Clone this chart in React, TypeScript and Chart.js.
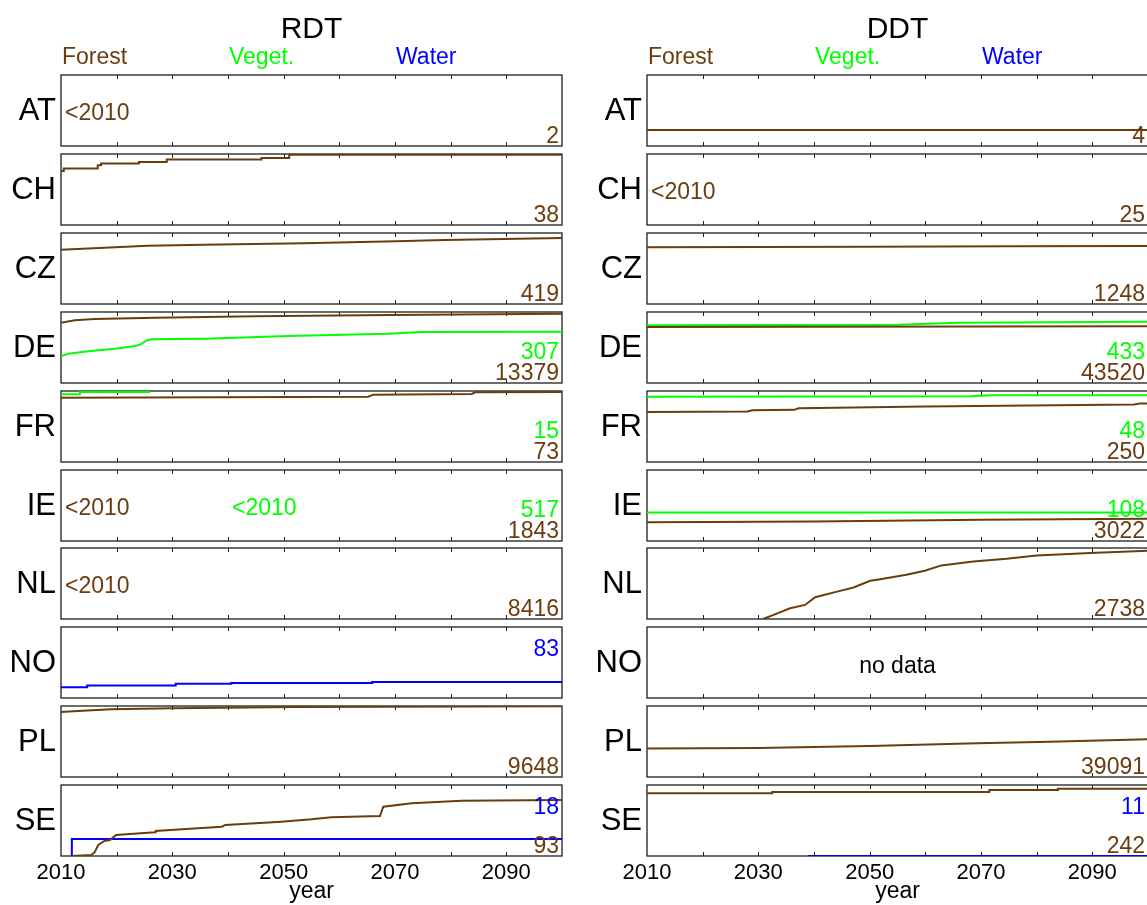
import { useEffect, useRef } from 'react';
import { Chart, registerables } from 'chart.js';

Chart.register(...registerables);

type Pt = [number, number];
type ClassKey = 'forest' | 'veget' | 'water';

const FONT = '"Liberation Sans", Arial, Helvetica, sans-serif';
Chart.defaults.font.family = FONT;

// ---------------- categories, labels, ticks ----------------
const COUNTRIES = ['AT', 'CH', 'CZ', 'DE', 'FR', 'IE', 'NL', 'NO', 'PL', 'SE'];
const COLUMN_TITLES = ['RDT', 'DDT'];
const CLASS_KEYS: ClassKey[] = ['forest', 'veget', 'water'];
const CLASS_LABELS = ['Forest', 'Veget.', 'Water'];
const CLASS_COLORS = ['#6b3c10', '#00ff00', '#0000ff'];
const CLASS_LABEL_YEARS = [2010, 2040, 2070];
const YEAR_MIN = 2010;
const YEAR_MAX = 2100;
const YEAR_TICK_LABELS = [2010, 2030, 2050, 2070, 2090];
const YEAR_MINOR_TICKS = [2020, 2030, 2040, 2050, 2060, 2070, 2080, 2090];
const X_TITLE = 'year';
const BEFORE_TEXT = '<2010';
const NO_DATA_TEXT = 'no data';
const NO_DATA_YEAR = 2055;

// ---------------- counts shown at the right of each panel ----------------
const RDT_COUNT_FOREST = ['2', '38', '419', '13379', '73', '1843', '8416', '', '9648', '93'];
const RDT_COUNT_VEGET = ['', '', '', '307', '15', '517', '', '', '', ''];
const RDT_COUNT_WATER = ['', '', '', '', '', '', '', '83', '', '18'];
const DDT_COUNT_FOREST = ['4', '25', '1248', '43520', '250', '3022', '2738', '', '39091', '242'];
const DDT_COUNT_VEGET = ['', '', '', '433', '48', '108', '', '', '', ''];
const DDT_COUNT_WATER = ['', '', '', '', '', '', '', '', '', '11'];

// ---------------- panels whose series lie before 2010 / have no data ----------------
const RDT_BEFORE_FOREST = ['AT', 'IE', 'NL'];
const RDT_BEFORE_VEGET = ['IE'];
const DDT_BEFORE_FOREST = ['CH'];
const DDT_NO_DATA = ['NO'];

// ---------------- RDT series (year, fraction) ----------------
const RDT_CH_FOREST: Pt[] = [[2010, 0.762], [2010.5, 0.795], [2016.6, 0.84], [2017.2, 0.865], [2024, 0.888], [2029, 0.921], [2046, 0.944], [2051, 0.99], [2100, 0.99]];
const RDT_CZ_FOREST: Pt[] = [[2010, 0.765], [2025.6, 0.822], [2035.6, 0.836], [2053.6, 0.854], [2070.2, 0.883], [2078.9, 0.901], [2100, 0.93]];
const RDT_DE_FOREST: Pt[] = [[2010, 0.85], [2012.5, 0.883], [2016, 0.9], [2027, 0.92], [2045, 0.94], [2069, 0.958], [2100, 0.977]];
const RDT_DE_VEGET: Pt[] = [[2010, 0.376], [2011.3, 0.413], [2014.9, 0.446], [2019.7, 0.484], [2023.3, 0.52], [2024.2, 0.54], [2025.4, 0.6], [2026.3, 0.615], [2035.9, 0.624], [2050.8, 0.662], [2068.8, 0.695], [2074.8, 0.718], [2100, 0.723]];
const RDT_FR_FOREST: Pt[] = [[2010, 0.906], [2065.2, 0.92], [2066.1, 0.948], [2083.8, 0.958], [2084.4, 0.981], [2100, 0.986]];
const RDT_FR_VEGET: Pt[] = [[2010, 0.953], [2013.4, 0.986], [2026, 0.986]];
const RDT_NO_WATER: Pt[] = [[2010, 0.152], [2014.7, 0.175], [2030.6, 0.199], [2040.6, 0.213], [2065.9, 0.227], [2100, 0.227]];
const RDT_PL_FOREST: Pt[] = [[2010, 0.916], [2013, 0.93], [2019, 0.953], [2030, 0.97], [2052.3, 0.986], [2100, 0.995]];
const RDT_SE_FOREST: Pt[] = [[2011.9, 0], [2015.4, 0.014], [2016, 0.047], [2016.7, 0.155], [2017.8, 0.211], [2018.8, 0.225], [2019.9, 0.296], [2026.9, 0.333], [2027, 0.352], [2031.7, 0.376], [2038.9, 0.413], [2039.5, 0.437], [2049.6, 0.484], [2055, 0.516], [2058.6, 0.545], [2067.3, 0.563], [2067.9, 0.695], [2073, 0.742], [2082, 0.779], [2100, 0.789]];
const RDT_SE_WATER: Pt[] = [[2011.9, 0], [2011.95, 0.239], [2100, 0.239]];

// ---------------- DDT series (year, fraction) ----------------
const DDT_AT_FOREST: Pt[] = [[2010, 0.226], [2100, 0.226]];
const DDT_CZ_FOREST: Pt[] = [[2010, 0.798], [2050, 0.805], [2075, 0.812], [2100, 0.817]];
const DDT_DE_FOREST: Pt[] = [[2010, 0.789], [2100, 0.798]];
const DDT_DE_VEGET: Pt[] = [[2010, 0.812], [2055, 0.82], [2066, 0.85], [2100, 0.864]];
const DDT_FR_FOREST: Pt[] = [[2010, 0.703], [2028, 0.71], [2029, 0.73], [2036.5, 0.735], [2037.2, 0.757], [2060, 0.78], [2097.5, 0.81], [2098.5, 0.825], [2100, 0.825]];
const DDT_FR_VEGET: Pt[] = [[2010, 0.92], [2068, 0.925], [2072, 0.939], [2100, 0.939]];
const DDT_IE_FOREST: Pt[] = [[2010, 0.263], [2040, 0.275], [2070, 0.298], [2100, 0.315]];
const DDT_IE_VEGET: Pt[] = [[2010, 0.4], [2100, 0.4]];
const DDT_NL_FOREST: Pt[] = [[2030.8, 0], [2032.4, 0.047], [2035.7, 0.151], [2038.4, 0.198], [2040.2, 0.307], [2044.7, 0.396], [2047.1, 0.443], [2050.1, 0.538], [2051.9, 0.561], [2056.6, 0.623], [2059.9, 0.679], [2062.9, 0.755], [2068.6, 0.811], [2074.6, 0.849], [2080, 0.896], [2089.6, 0.929], [2100, 0.962]];
const DDT_PL_FOREST: Pt[] = [[2010, 0.4], [2030, 0.409], [2050, 0.437], [2069.3, 0.474], [2082.4, 0.498], [2100, 0.53]];
const DDT_SE_FOREST: Pt[] = [[2010, 0.883], [2032.5, 0.901], [2071.5, 0.93], [2083.8, 0.948], [2100, 0.948]];
const DDT_SE_WATER: Pt[] = [[2038.9, 0], [2100, 0]];

const STEPPED_SERIES: Pt[][] = [RDT_CH_FOREST, RDT_FR_VEGET, RDT_NO_WATER, DDT_SE_FOREST];

const RDT_SERIES: Record<string, Partial<Record<ClassKey, Pt[]>>> = {
  CH: { forest: RDT_CH_FOREST },
  CZ: { forest: RDT_CZ_FOREST },
  DE: { forest: RDT_DE_FOREST, veget: RDT_DE_VEGET },
  FR: { forest: RDT_FR_FOREST, veget: RDT_FR_VEGET },
  NO: { water: RDT_NO_WATER },
  PL: { forest: RDT_PL_FOREST },
  SE: { forest: RDT_SE_FOREST, water: RDT_SE_WATER },
};
const DDT_SERIES: Record<string, Partial<Record<ClassKey, Pt[]>>> = {
  AT: { forest: DDT_AT_FOREST },
  CZ: { forest: DDT_CZ_FOREST },
  DE: { forest: DDT_DE_FOREST, veget: DDT_DE_VEGET },
  FR: { forest: DDT_FR_FOREST, veget: DDT_FR_VEGET },
  IE: { forest: DDT_IE_FOREST, veget: DDT_IE_VEGET },
  NL: { forest: DDT_NL_FOREST },
  PL: { forest: DDT_PL_FOREST },
  SE: { forest: DDT_SE_FOREST, water: DDT_SE_WATER },
};

const COLUMNS = [
  { series: RDT_SERIES, counts: [RDT_COUNT_FOREST, RDT_COUNT_VEGET, RDT_COUNT_WATER], before: [RDT_BEFORE_FOREST, RDT_BEFORE_VEGET, [] as string[]], noData: [] as string[] },
  { series: DDT_SERIES, counts: [DDT_COUNT_FOREST, DDT_COUNT_VEGET, DDT_COUNT_WATER], before: [DDT_BEFORE_FOREST, [] as string[], [] as string[]], noData: DDT_NO_DATA },
];

// ---------------- layout (pixels) ----------------
const PLOT_LEFT = [61, 647];
const PLOT_WIDTH = 501;
const AXIS_WIDTH = 61;
const PANEL_TOP = 75;
const PANEL_PITCH = 78.9;
const PANEL_HEIGHT = 71;
const PAD = 4;
const PAD_RIGHT = 6;
const X_AXIS_HEIGHT = 49;
const COUNT_BASELINES = [2.6, 24.3, 42.1];
const FRAME_COLOR = '#1e1e1e';

interface PanelGeom { col: number; row: number; left: number; top: number; width: number; height: number; padTop: number; }

const PANELS: PanelGeom[] = [];
for (let col = 0; col < 2; col++) {
  for (let row = 0; row < COUNTRIES.length; row++) {
    const top = Math.round(PANEL_TOP + row * PANEL_PITCH);
    const isTop = row === 0;
    const isBottom = row === COUNTRIES.length - 1;
    const canvasTop = isTop ? 0 : top - PAD;
    PANELS.push({
      col, row,
      left: PLOT_LEFT[col] - AXIS_WIDTH,
      top: canvasTop,
      width: AXIS_WIDTH + PLOT_WIDTH + PAD_RIGHT,
      height: (top - canvasTop) + PANEL_HEIGHT + (isBottom ? X_AXIS_HEIGHT : PAD),
      padTop: top - canvasTop,
    });
  }
}

function decorPlugin(col: number, row: number) {
  const column = COLUMNS[col];
  const country = COUNTRIES[row];
  return {
    id: 'panelDecor',
    beforeDatasetsDraw(chart: any) {
      const { ctx, chartArea: a } = chart;
      const x = chart.scales.x;
      ctx.save();
      ctx.strokeStyle = FRAME_COLOR;
      ctx.lineWidth = 1.3;
      ctx.strokeRect(a.left, a.top, a.right - a.left, a.bottom - a.top);
      ctx.lineWidth = 1;
      ctx.beginPath();
      for (const yr of YEAR_MINOR_TICKS) {
        const px = Math.round(x.getPixelForValue(yr)) + 0.5;
        ctx.moveTo(px, a.top);
        ctx.lineTo(px, a.top + 4);
        ctx.moveTo(px, a.bottom);
        ctx.lineTo(px, a.bottom - 4);
      }
      ctx.stroke();
      ctx.restore();
    },
    afterDatasetsDraw(chart: any) {
      const { ctx, chartArea: a } = chart;
      const x = chart.scales.x;
      const midY = (a.top + a.bottom) / 2;
      ctx.save();
      ctx.font = `23px ${FONT}`;
      ctx.textBaseline = 'alphabetic';
      if (row === 0) {
        ctx.textAlign = 'left';
        CLASS_LABELS.forEach((lbl, k) => {
          ctx.fillStyle = CLASS_COLORS[k];
          ctx.fillText(lbl, x.getPixelForValue(CLASS_LABEL_YEARS[k]) + 1, a.top - 11);
        });
      }
      ctx.textAlign = 'right';
      column.counts.forEach((arr, k) => {
        const t = arr[row];
        if (!t) return;
        ctx.fillStyle = CLASS_COLORS[k];
        ctx.fillText(t, a.right - 3, a.bottom - COUNT_BASELINES[k]);
      });
      ctx.textAlign = 'left';
      column.before.forEach((list, k) => {
        if (!list.includes(country)) return;
        ctx.fillStyle = CLASS_COLORS[k];
        ctx.fillText(BEFORE_TEXT, x.getPixelForValue(CLASS_LABEL_YEARS[k]) + 4, midY + 9);
      });
      if (column.noData.includes(country)) {
        ctx.textAlign = 'center';
        ctx.fillStyle = '#000';
        ctx.fillText(NO_DATA_TEXT, x.getPixelForValue(NO_DATA_YEAR), midY + 10.5);
      }
      ctx.restore();
    },
  };
}

function buildConfig(p: PanelGeom): any {
  const { col, row } = p;
  const column = COLUMNS[col];
  const country = COUNTRIES[row];
  const isTop = row === 0;
  const isBottom = row === COUNTRIES.length - 1;
  const set = column.series[country] || {};
  const datasets = CLASS_KEYS.map((key, k) => {
    const pts = set[key] || [];
    return {
      label: CLASS_LABELS[k],
      data: pts.map(([x, y]) => ({ x, y })),
      borderColor: CLASS_COLORS[k],
      backgroundColor: CLASS_COLORS[k],
      borderWidth: 2,
      pointRadius: 0,
      pointHoverRadius: 0,
      fill: false,
      tension: 0,
      stepped: STEPPED_SERIES.includes(pts),
    };
  });
  return {
    type: 'line',
    data: { datasets },
    plugins: [decorPlugin(col, row)],
    options: {
      animation: false,
      responsive: false,
      maintainAspectRatio: false,
      devicePixelRatio: 1,
      events: [],
      layout: { padding: { top: isTop ? 0 : p.padTop, bottom: isBottom ? 0 : PAD, left: 0, right: PAD_RIGHT } },
      plugins: {
        legend: { display: false },
        tooltip: { enabled: false },
        title: {
          display: isTop,
          text: COLUMN_TITLES[col],
          fullSize: false,
          align: 'center',
          color: '#000',
          font: { family: FONT, size: 30, weight: 'normal', lineHeight: 1.2 },
          padding: { top: 12, bottom: p.padTop - 12 - 36 },
        },
      },
      scales: {
        x: {
          type: 'linear',
          min: YEAR_MIN,
          max: YEAR_MAX,
          display: isBottom,
          position: 'bottom',
          grid: { display: false, drawTicks: false },
          border: { display: false },
          afterBuildTicks: (s: any) => { s.ticks = YEAR_TICK_LABELS.map((v) => ({ value: v })); },
          afterFit: (s: any) => {
            if (isBottom) s.height = X_AXIS_HEIGHT;
            s.paddingLeft = 0;
            s.paddingRight = 0;
          },
          ticks: {
            autoSkip: false, maxRotation: 0, minRotation: 0, padding: 4, color: '#000',
            font: { family: FONT, size: 22 },
            callback: (v: any) => String(v),
          },
          title: { display: true, text: X_TITLE, color: '#000', font: { family: FONT, size: 23 }, padding: { top: 0, bottom: 0 } },
        },
        y: {
          type: 'linear',
          min: 0,
          max: 1,
          position: 'left',
          grid: { display: false, drawTicks: false },
          border: { display: false },
          afterBuildTicks: (s: any) => { s.ticks = [{ value: 0.49 }]; },
          afterFit: (s: any) => { s.width = AXIS_WIDTH; s.paddingTop = 0; s.paddingBottom = 0; },
          ticks: {
            autoSkip: false, padding: 5, color: '#000',
            font: { family: FONT, size: 31 },
            callback: () => country,
          },
        },
      },
    },
  };
}

export default function App() {
  const refs = useRef<(HTMLCanvasElement | null)[]>([]);
  useEffect(() => {
    document.body.style.margin = '0';
    document.body.style.overflow = 'hidden';
    const charts: Chart[] = [];
    PANELS.forEach((p, i) => {
      const c = refs.current[i];
      if (c) charts.push(new Chart(c, buildConfig(p)));
    });
    return () => { charts.forEach((ch) => ch.destroy()); };
  }, []);
  return (
    <div style={{ position: 'relative', width: 1147, height: 905, overflow: 'hidden', background: '#fff' }}>
      {PANELS.map((p, i) => (
        <canvas
          key={i}
          ref={(el) => { refs.current[i] = el; }}
          width={p.width}
          height={p.height}
          style={{ position: 'absolute', left: p.left, top: p.top, width: p.width, height: p.height }}
        />
      ))}
    </div>
  );
}
